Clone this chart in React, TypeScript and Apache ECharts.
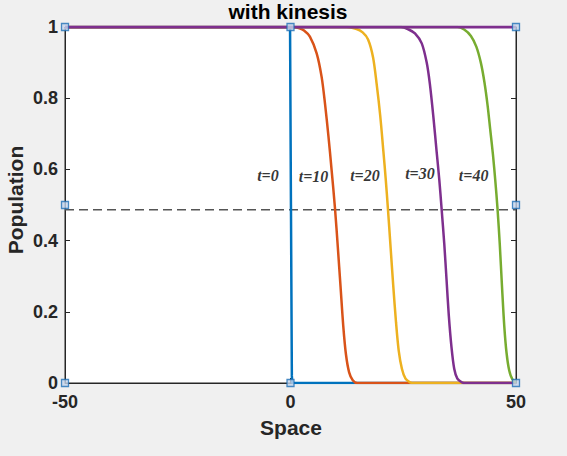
import React, { useEffect, useRef } from "react";
import * as echarts from "echarts";

// Population fronts at successive times, sampled as [space, population]
const frontT0: number[][] = [
  [-50, 1], [-0.1, 1], [0.1, 0.5], [0.3, 0.02], [0.4, 0], [50, 0],
];
const frontT10: number[][] = [
  [-50, 1], [0.5, 1], [2.0, 0.996], [3.0, 0.99], [4.3, 0.973], [5.8, 0.926],
  [6.9, 0.86], [7.65, 0.785], [8.4, 0.695], [9.1, 0.6], [9.87, 0.49],
  [10.5, 0.38], [11.1, 0.27], [11.7, 0.16], [12.3, 0.08], [13.0, 0.03],
  [13.8, 0.008], [14.8, 0], [50, 0],
];
const frontT20: number[][] = [
  [-50, 1], [12.5, 1], [14.5, 0.995], [16.0, 0.985], [17.2, 0.965],
  [18.3, 0.915], [19.1, 0.84], [19.9, 0.75], [20.6, 0.65], [21.1, 0.575],
  [21.6, 0.49], [22.2, 0.38], [22.8, 0.27], [23.4, 0.17], [24.0, 0.09],
  [24.7, 0.04], [25.5, 0.012], [26.5, 0.002], [27.5, 0], [50, 0],
];
const frontT30: number[][] = [
  [-50, 1], [24.5, 1], [26.2, 0.993], [27.6, 0.982], [29.1, 0.954],
  [30.2, 0.9], [30.9, 0.84], [31.7, 0.745], [32.4, 0.65], [33.0, 0.57],
  [33.5, 0.49], [34.1, 0.39], [34.6, 0.29], [35.1, 0.19], [35.7, 0.1],
  [36.3, 0.04], [37.0, 0.012], [38.0, 0.002], [39.0, 0], [50, 0],
];
const frontT40: number[][] = [
  [-50, 1], [37, 1], [38.5, 0.993], [40.0, 0.975], [41.2, 0.945],
  [42.2, 0.9], [43.0, 0.845], [43.7, 0.78], [44.3, 0.71], [44.9, 0.64],
  [45.4, 0.57], [45.9, 0.49], [46.4, 0.39], [46.9, 0.27], [47.4, 0.16],
  [47.9, 0.085], [48.5, 0.035], [49.2, 0.01], [50, 0],
];
const upperState: number[][] = [[-50, 1], [50, 1]];
const midLevel: number[][] = [[-50, 0.487], [50, 0.487]];

// Selection handles on the axes box
const handles: number[][] = [
  [-50, 1], [0, 1], [50, 1], [-50, 0.5], [50, 0.5], [-50, 0], [0, 0], [50, 0],
];

// Time annotations
const timeLabels = ["t=0", "t=10", "t=20", "t=30", "t=40"];
const timeLabelX = [-5.0, 5.1, 16.5, 28.7, 40.6];
const timeLabelY = [0.583, 0.58, 0.583, 0.588, 0.583];

const xTicks = [-50, 0, 50];
const yTicks = [0, 0.2, 0.4, 0.6, 0.8, 1];

const COLORS = ["#0072BD", "#D95319", "#EDB120", "#7E2F8E", "#77AC30"];
const AXIS = "#262626";
const SANS = "'Liberation Sans', Arial, Helvetica, sans-serif";

export default function App() {
  const ref = useRef<HTMLDivElement>(null);

  useEffect(() => {
    document.body.style.margin = "0";
    if (!ref.current) return;
    const chart = echarts.init(ref.current, undefined, { renderer: "svg" });

    const fronts = [frontT0, frontT10, frontT20, frontT30, frontT40];
    const lineSeries = fronts.map((d, i) => ({
      type: "line",
      data: d,
      showSymbol: false,
      smooth: i === 0 ? false : 0.3,
      lineStyle: { color: COLORS[i], width: 2.5 },
      z: 3,
    }));

    const tickLabel = {
      color: AXIS,
      fontFamily: SANS,
      fontWeight: "bold",
      fontSize: 18,
    };

    const axisCommon = {
      type: "value",
      axisLine: { show: true, onZero: false, lineStyle: { color: AXIS, width: 1 } },
      axisTick: { show: true, inside: true, length: 5, lineStyle: { color: AXIS } },
      splitLine: { show: false },
    };

    chart.setOption({
      animation: false,
      backgroundColor: "#f0f0f0",
      grid: {
        left: 65,
        right: 51,
        top: 27,
        bottom: 73,
        show: true,
        backgroundColor: "#ffffff",
        borderColor: AXIS,
        borderWidth: 1,
      },
      xAxis: [
        {
          ...axisCommon,
          min: xTicks[0],
          max: xTicks[xTicks.length - 1],
          interval: 50,
          position: "bottom",
          axisLabel: { ...tickLabel, margin: 10 },
        },
        {
          ...axisCommon,
          min: xTicks[0],
          max: xTicks[xTicks.length - 1],
          interval: 50,
          position: "top",
          axisLabel: { show: false },
        },
      ],
      yAxis: [
        {
          ...axisCommon,
          min: yTicks[0],
          max: yTicks[yTicks.length - 1],
          interval: 0.2,
          position: "left",
          axisLabel: {
            ...tickLabel,
            margin: 7,
            formatter: (v: number) => (v === 0 ? "0" : v === 1 ? "1" : v.toFixed(1)),
          },
        },
        {
          ...axisCommon,
          min: yTicks[0],
          max: yTicks[yTicks.length - 1],
          interval: 0.2,
          position: "right",
          axisLabel: { show: false },
        },
      ],
      graphic: [
        {
          type: "text",
          x: 288,
          y: 11,
          style: {
            text: "with kinesis",
            fill: "#000",
            font: `bold 21px ${SANS}`,
            textAlign: "center",
            textVerticalAlign: "middle",
          },
        },
        {
          type: "text",
          x: 291,
          y: 427,
          style: {
            text: "Space",
            fill: AXIS,
            font: `bold 21px ${SANS}`,
            textAlign: "center",
            textVerticalAlign: "middle",
          },
        },
        {
          type: "text",
          x: 15,
          y: 200,
          rotation: Math.PI / 2,
          style: {
            text: "Population",
            fill: AXIS,
            font: `bold 21px ${SANS}`,
            textAlign: "center",
            textVerticalAlign: "middle",
          },
        },
      ],
      series: [
        {
          type: "line",
          data: midLevel,
          showSymbol: false,
          lineStyle: { color: "#555555", width: 1.5, type: [9, 5] },
          z: 2,
        },
        ...lineSeries,
        {
          type: "line",
          data: upperState,
          showSymbol: false,
          lineStyle: { color: COLORS[3], width: 3 },
          z: 3,
        },
        {
          type: "scatter",
          data: timeLabelX.map((x, i) => ({
            value: [x, timeLabelY[i]],
            name: timeLabels[i],
          })),
          symbolSize: 0,
          label: {
            show: true,
            position: "inside",
            formatter: (p: any) => p.name,
            color: "#000",
            fontFamily: "'Liberation Serif', 'Times New Roman', serif",
            fontStyle: "italic",
            fontWeight: "bold",
            fontSize: 16,
          },
          z: 4,
        },
        {
          type: "scatter",
          data: handles,
          symbol: "rect",
          symbolSize: 7,
          itemStyle: { color: "#c3d4ec", borderColor: "#1f6fb5", borderWidth: 1.3 },
          z: 5,
        },
      ],
    });

    return () => chart.dispose();
  }, []);

  return <div ref={ref} style={{ width: 567, height: 456 }} />;
}
